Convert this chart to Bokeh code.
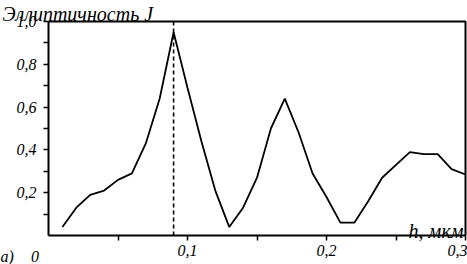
from bokeh.plotting import figure
from bokeh.models import Range1d, FixedTicker, CustomJSTickFormatter, Label, LinearAxis
from bokeh.embed import file_html
from bokeh.resources import INLINE

# data
h_values = [0.01, 0.02, 0.03, 0.04, 0.05, 0.06, 0.07, 0.08, 0.09, 0.10,
            0.11, 0.12, 0.13, 0.14, 0.15, 0.16, 0.17, 0.18, 0.19, 0.20,
            0.21, 0.22, 0.23, 0.24, 0.25, 0.26, 0.27, 0.28, 0.29, 0.30]
J_values = [0.04, 0.13, 0.19, 0.21, 0.26, 0.29, 0.43, 0.64, 0.95, 0.69,
            0.44, 0.21, 0.04, 0.13, 0.27, 0.50, 0.64, 0.48, 0.29, 0.18,
            0.06, 0.06, 0.16, 0.27, 0.33, 0.39, 0.38, 0.38, 0.31, 0.285]
peak_h = 0.09
x_lo, x_hi = 0.0, 0.3
y_lo, y_hi = 0.0, 1.0
x_major = [0.1, 0.2, 0.3]
x_minor = [0.05, 0.15, 0.25]
y_major = [0.2, 0.4, 0.6, 0.8, 1.0]
y_minor = [0.1, 0.3, 0.5, 0.7, 0.9]
title_text = "Эллиптичность J"
xlabel_text = "h, мкм"
panel_text = "а)"
origin_text = "0"

FONT = "Liberation Serif"
W, H = 467, 264
# pixel placement of the plotting box inside the canvas
BOX_L, BOX_R, BOX_T, BOX_B = 48, 465, 21, 235
sx = (BOX_R - BOX_L) / (x_hi - x_lo)
sy = (BOX_B - BOX_T) / (y_hi - y_lo)


def px2x(px):
    return x_lo + (px - BOX_L) / sx


def px2y(py):
    return y_lo + (BOX_B - py) / sy


p = figure(width=W, height=H, output_backend="svg", toolbar_location=None,
           x_range=Range1d(px2x(0), px2x(W)), y_range=Range1d(px2y(H), px2y(0)),
           x_axis_location=None, y_axis_location=None,
           min_border=0, min_border_left=0, min_border_right=0,
           min_border_top=0, min_border_bottom=0)
p.background_fill_color = "white"
p.border_fill_color = "white"
p.outline_line_color = None
p.grid.visible = False

fmt = CustomJSTickFormatter(code="return tick.toFixed(1).replace('.', ',');")


def style_axis(ax, maj, mnr):
    ax.ticker = FixedTicker(ticks=maj, minor_ticks=mnr)
    ax.formatter = fmt
    ax.axis_line_color = "black"
    ax.axis_line_width = 2
    ax.major_tick_in = 0
    ax.major_tick_out = 5
    ax.minor_tick_in = 0
    ax.minor_tick_out = 5
    ax.major_tick_line_width = 1.5
    ax.minor_tick_line_width = 1.5
    ax.major_tick_line_color = "black"
    ax.minor_tick_line_color = "black"
    ax.major_label_text_font = FONT
    ax.major_label_text_font_style = "italic"
    ax.major_label_text_font_size = "16px"
    ax.major_label_text_color = "black"


xaxis = LinearAxis(fixed_location=y_lo, bounds=(x_lo, x_hi))
style_axis(xaxis, x_major, x_minor)
xaxis.major_label_standoff = 4
p.add_layout(xaxis, "below")

yaxis = LinearAxis(fixed_location=x_lo, bounds=(y_lo, y_hi))
style_axis(yaxis, y_major, y_minor)
yaxis.major_label_standoff = 7
p.add_layout(yaxis, "left")

# top and right edges of the plotting box
p.line([x_lo, x_hi, x_hi], [y_hi, y_hi, y_lo], line_color="black", line_width=2)

p.line(h_values, J_values, line_color="black", line_width=1.8)
p.line([peak_h, peak_h], [y_lo, y_hi], line_color="black", line_width=1.6, line_dash="4 3")

common = dict(text_font=FONT, text_font_style="italic", text_color="black",
              text_baseline="alphabetic")
p.add_layout(Label(x=px2x(2), y=px2y(13), text=title_text, text_font_size="20px",
                   text_align="left", **common))
p.add_layout(Label(x=px2x(463), y=px2y(230), text=xlabel_text, text_font_size="20px",
                   text_align="right", **common))
p.add_layout(Label(x=px2x(0), y=px2y(256), text=panel_text, text_font_size="16px",
                   text_align="left", **common))
p.add_layout(Label(x=px2x(34.5), y=px2y(256), text=origin_text, text_font_size="16px",
                   text_align="center", **common))

open("out.html", "w").write(file_html(p, INLINE))
